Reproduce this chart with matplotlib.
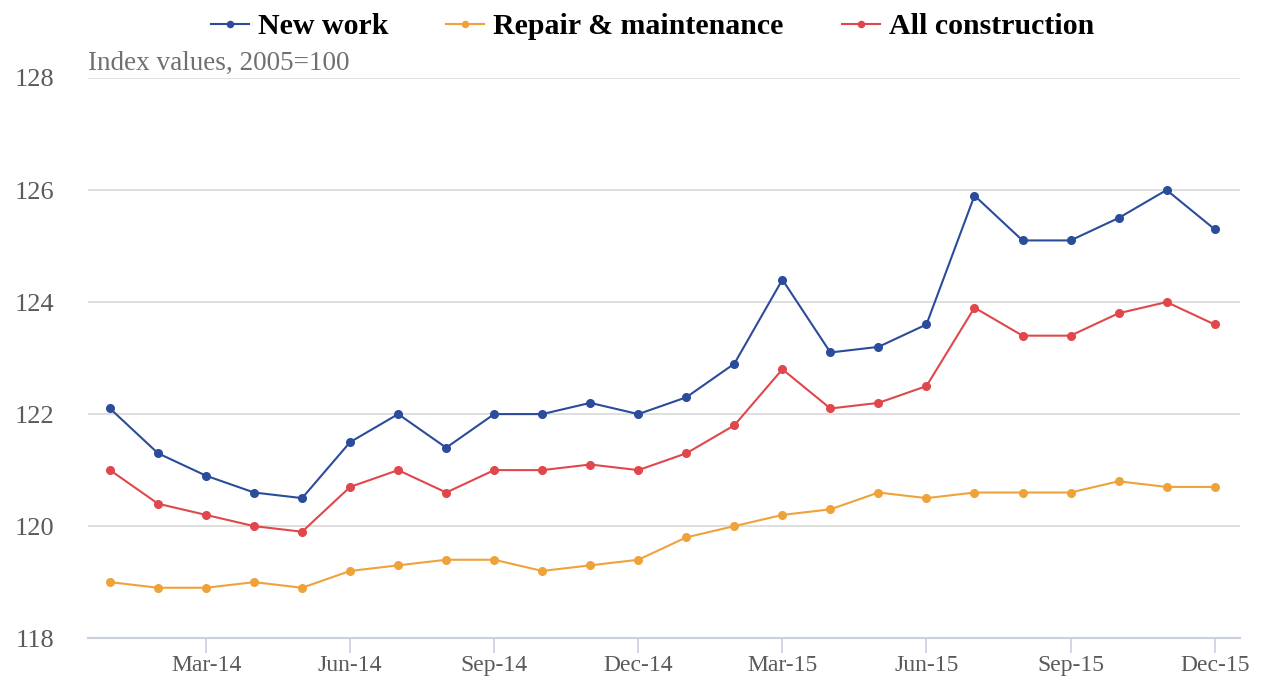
import matplotlib
matplotlib.use('Agg')
import matplotlib.pyplot as plt

months = ['Jan-14', 'Feb-14', 'Mar-14', 'Apr-14', 'May-14', 'Jun-14', 'Jul-14', 'Aug-14',
          'Sep-14', 'Oct-14', 'Nov-14', 'Dec-14', 'Jan-15', 'Feb-15', 'Mar-15', 'Apr-15',
          'May-15', 'Jun-15', 'Jul-15', 'Aug-15', 'Sep-15', 'Oct-15', 'Nov-15', 'Dec-15']
new_work = [122.1, 121.3, 120.9, 120.6, 120.5, 121.5, 122.0, 121.4, 122.0, 122.0, 122.2, 122.0,
            122.3, 122.9, 124.4, 123.1, 123.2, 123.6, 125.9, 125.1, 125.1, 125.5, 126.0, 125.3]
repair = [119.0, 118.9, 118.9, 119.0, 118.9, 119.2, 119.3, 119.4, 119.4, 119.2, 119.3, 119.4,
          119.8, 120.0, 120.2, 120.3, 120.6, 120.5, 120.6, 120.6, 120.6, 120.8, 120.7, 120.7]
all_constr = [121.0, 120.4, 120.2, 120.0, 119.9, 120.7, 121.0, 120.6, 121.0, 121.0, 121.1, 121.0,
              121.3, 121.8, 122.8, 122.1, 122.2, 122.5, 123.9, 123.4, 123.4, 123.8, 124.0, 123.6]
tick_labels = ['Mar-14', 'Jun-14', 'Sep-14', 'Dec-14', 'Mar-15', 'Jun-15', 'Sep-15', 'Dec-15']
y_ticks = [118, 120, 122, 124, 126, 128]

plt.rcParams['font.family'] = ['Liberation Serif', 'DejaVu Serif']

fig = plt.figure(figsize=(12.74, 6.84), dpi=100)
ax = fig.add_axes([0.069, 0.067, 0.904, 0.819])

x = list(range(len(months)))
ax.plot(x, new_work, color='#2b4c9b', lw=1.5, marker='o', ms=5.5, label='New work')
ax.plot(x, repair, color='#f0a23a', lw=1.5, marker='o', ms=5.5, label='Repair & maintenance')
ax.plot(x, all_constr, color='#e0474c', lw=1.5, marker='o', ms=5.5, label='All construction')

ax.set_xlim(-0.46, 23.52)
ax.set_ylim(118, 128)
ax.set_yticks(y_ticks)
ax.set_xticks([months.index(t) for t in tick_labels])
ax.set_xticklabels(tick_labels)
ax.grid(axis='y', color='#d9d9d9', lw=1.2)
ax.set_axisbelow(True)
for s in ['top', 'right', 'left']:
    ax.spines[s].set_visible(False)
ax.spines['bottom'].set_color('#c8d0de')
ax.spines['bottom'].set_linewidth(1.5)
ax.tick_params(axis='x', length=11, color='#c8d0de', width=1.2, labelsize=17,
               labelcolor='#5a5a5a', pad=1)
ax.tick_params(axis='y', length=0, labelsize=19, labelcolor='#5a5a5a', pad=24)

ax.text(0, 1.003, 'Index values, 2005=100', transform=ax.transAxes, fontsize=19.5,
        color='#707070', va='bottom', ha='left')

fig.legend(loc='upper center', bbox_to_anchor=(0.512, 1.02), ncol=3, frameon=False,
           prop={'family': 'Liberation Serif', 'weight': 'bold', 'size': 21.5},
           columnspacing=1.95, handlelength=1.27, handletextpad=0.3, markerscale=0.8)

fig.savefig('out.png', dpi=100)
